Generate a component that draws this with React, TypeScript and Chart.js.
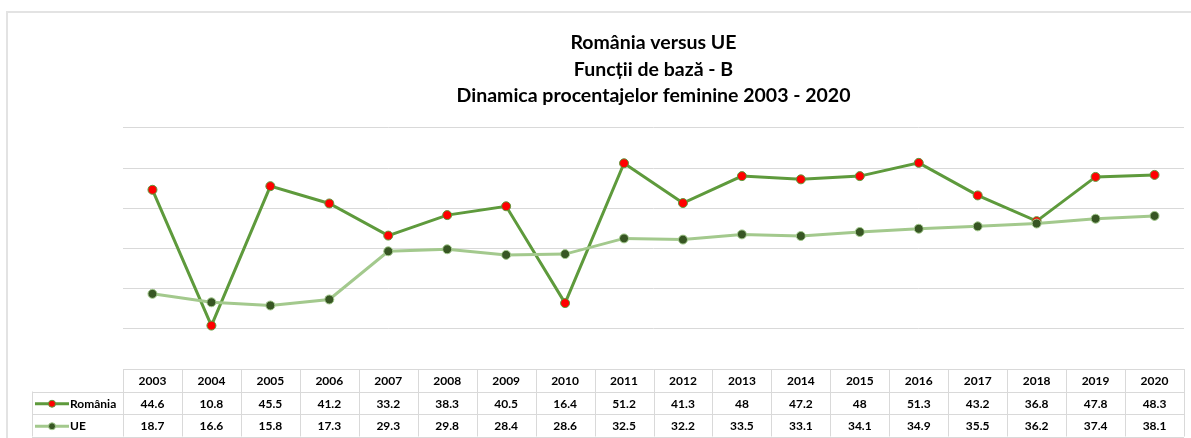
import React, { useEffect, useRef } from "react";
import { Chart, registerables } from "chart.js";

Chart.register(...registerables);

const years = ["2003","2004","2005","2006","2007","2008","2009","2010","2011","2012","2013","2014","2015","2016","2017","2018","2019","2020"];
const romania = [44.6, 10.8, 45.5, 41.2, 33.2, 38.3, 40.5, 16.4, 51.2, 41.3, 48, 47.2, 48, 51.3, 43.2, 36.8, 47.8, 48.3];
const ue = [18.7, 16.6, 15.8, 17.3, 29.3, 29.8, 28.4, 28.6, 32.5, 32.2, 33.5, 33.1, 34.1, 34.9, 35.5, 36.2, 37.4, 38.1];
const seriesNames = ["România", "UE"];
const titleLines = ["România versus UE", "Funcții de bază - B", "Dinamica procentajelor feminine 2003 - 2020"];

const ROM_LINE = "#5E9A3C";
const ROM_POINT = "#FF0000";
const UE_LINE = "#A3C98D";
const UE_POINT = "#375623";
const GRID = "#d9d9d9";
const FONT = "Lato, 'Liberation Sans', sans-serif";

const tablePlugin = {
  id: "dataTable",
  afterDraw(chart: any) {
    const ctx = chart.ctx as CanvasRenderingContext2D;
    const area = chart.chartArea;
    const xs = chart.scales.x;
    const n = years.length;
    const colW = (area.right - area.left) / n;
    const top = area.bottom;
    const rowH = 22.5;
    const legendLeft = 32;
    ctx.save();
    // frame border
    ctx.strokeStyle = "#e3e3e3";
    ctx.lineWidth = 2;
    ctx.beginPath();
    ctx.moveTo(7, 438);
    ctx.lineTo(7, 12);
    ctx.lineTo(1191, 12);
    ctx.stroke();

    ctx.strokeStyle = GRID;
    ctx.lineWidth = 1;
    ctx.beginPath();
    ctx.moveTo(area.left, Math.round(top) + 0.5);
    ctx.lineTo(area.right, Math.round(top) + 0.5);
    for (let r = 1; r <= 3; r++) {
      const y = Math.round(top + r * rowH) + 0.5;
      ctx.moveTo(legendLeft, y);
      ctx.lineTo(area.right, y);
    }
    for (let i = 0; i <= n; i++) {
      const x = Math.round(area.left + i * colW) + 0.5;
      ctx.moveTo(x, top);
      ctx.lineTo(x, top + 3 * rowH);
    }
    ctx.moveTo(legendLeft + 0.5, top + rowH);
    ctx.lineTo(legendLeft + 0.5, top + 3 * rowH);
    ctx.stroke();

    ctx.fillStyle = "#000";
    ctx.font = `bold 12px ${FONT}`;
    ctx.textAlign = "center";
    ctx.textBaseline = "middle";
    const rows = [romania, ue];
    for (let i = 0; i < n; i++) {
      const cx = xs.getPixelForValue(i);
      ctx.fillText(years[i], cx, top + rowH / 2 + 1);
      rows.forEach((vals, r) => {
        ctx.fillText(String(vals[i]), cx, top + (r + 1) * rowH + rowH / 2 + 1);
      });
    }
    const keys = [
      { line: ROM_LINE, point: ROM_POINT },
      { line: UE_LINE, point: UE_POINT },
    ];
    keys.forEach((k, r) => {
      const cy = top + (r + 1) * rowH + rowH / 2 + 1;
      ctx.strokeStyle = k.line;
      ctx.lineWidth = 3;
      ctx.beginPath();
      ctx.moveTo(35, cy);
      ctx.lineTo(69, cy);
      ctx.stroke();
      ctx.fillStyle = k.point;
      ctx.strokeStyle = k.line;
      ctx.lineWidth = 1;
      ctx.beginPath();
      ctx.arc(52, cy, 3.5, 0, Math.PI * 2);
      ctx.fill();
      ctx.stroke();
      ctx.fillStyle = "#000";
      ctx.textAlign = "left";
      ctx.fillText(seriesNames[r], 70, cy);
    });
    ctx.restore();
  },
};

export default function App() {
  const ref = useRef<HTMLCanvasElement>(null);
  useEffect(() => {
    document.body.style.margin = "0";
    const chart = new Chart(ref.current!, {
      type: "line",
      data: {
        labels: years,
        datasets: [
          {
            label: seriesNames[0],
            data: romania,
            borderColor: ROM_LINE,
            borderWidth: 3,
            pointBackgroundColor: ROM_POINT,
            pointBorderColor: ROM_LINE,
            pointBorderWidth: 1,
            pointRadius: 4.5,
            tension: 0,
            order: 1,
          },
          {
            label: seriesNames[1],
            data: ue,
            borderColor: UE_LINE,
            borderWidth: 3,
            pointBackgroundColor: UE_POINT,
            pointBorderColor: UE_LINE,
            pointBorderWidth: 1,
            pointRadius: 4.5,
            tension: 0,
            order: 0,
          },
        ],
      },
      options: {
        responsive: false,
        animation: false,
        layout: { padding: { left: 123, right: 7, top: 13, bottom: 69 } },
        plugins: {
          legend: { display: false },
          tooltip: { enabled: false },
          title: {
            display: true,
            text: titleLines,
            color: "#000",
            font: { family: FONT, size: 19.5, weight: "bold", lineHeight: 26.5 / 19.5 },
            padding: { top: 16.8, bottom: 18.6 },
          },
        },
        scales: {
          x: { display: false, offset: true, grid: { display: false } },
          y: {
            min: 0,
            max: 60,
            ticks: { display: false, stepSize: 10 },
            grid: { color: GRID, lineWidth: 1, drawTicks: false },
            border: { display: false },
          },
        },
      },
      plugins: [tablePlugin],
    });
    return () => chart.destroy();
  }, []);
  return <canvas ref={ref} width={1191} height={438} style={{ display: "block" }} />;
}
